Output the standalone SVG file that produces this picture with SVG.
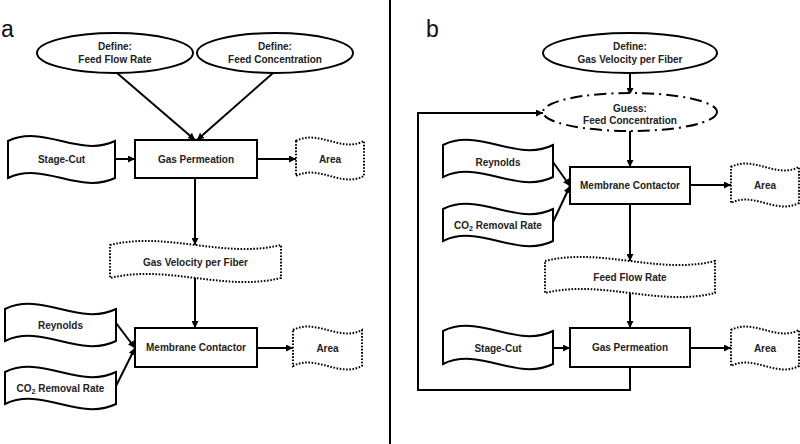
<svg xmlns="http://www.w3.org/2000/svg" width="800" height="444" viewBox="0 0 800 444">
<defs>
<marker id="ah" markerUnits="userSpaceOnUse" markerWidth="8" markerHeight="7" refX="7" refY="3.5" orient="auto">
<path d="M0,0 L7,3.5 L0,7 z" fill="#000"/>
</marker>
<style>
.s{fill:#fff;stroke:#000;stroke-width:2}
.d{fill:#fff;stroke:#000;stroke-width:2;stroke-dasharray:1.6 1.6}
.dd{fill:#fff;stroke:#000;stroke-width:2;stroke-dasharray:12 5 2 5}
.c{fill:none;stroke:#000;stroke-width:2;marker-end:url(#ah)}
.p{fill:none;stroke:#000;stroke-width:2}
text{font-family:"Liberation Sans",Arial,sans-serif;font-size:10px;font-weight:bold;text-anchor:middle;fill:#222}
.lab{font-size:23px;font-weight:normal;text-anchor:start;fill:#111}
</style>
</defs>
<rect width="800" height="444" fill="#fff"/>
<line x1="390" y1="0" x2="390" y2="444" stroke="#000" stroke-width="2"/>
<text class="lab" x="1" y="37">a</text>
<text class="lab" x="426" y="37">b</text>

<g id="connectors">
<path class="c" d="M117,73 L195,140"/>
<path class="c" d="M273,73 L197,140"/>
<path class="c" d="M115,159 L135,159"/>
<path class="c" d="M257,159 L296,159"/>
<path class="c" d="M195,178 L195,245"/>
<path class="c" d="M195,278 L195,328"/>
<path class="c" d="M116,323 L135,348"/>
<path class="c" d="M116,386 L135,348"/>
<path class="c" d="M257,348 L293,348"/>
<path class="c" d="M630,73 L630,95"/>
<path class="c" d="M630,131 L630,167"/>
<path class="c" d="M553,162 L570,186"/>
<path class="c" d="M553,222 L570,186"/>
<path class="c" d="M690,185 L731,185"/>
<path class="c" d="M630,204 L630,261"/>
<path class="c" d="M630,293 L630,328"/>
<path class="c" d="M553,348 L570,348"/>
<path class="c" d="M690,348 L731,348"/>
<path class="c" d="M630,367 L630,390 L418,390 L418,113 L543,113"/>
</g>

<g id="a-define-flow">
<ellipse class="s" cx="115" cy="53" rx="78" ry="20"/>
<text x="115" y="50">Define:</text>
<text x="115" y="63">Feed Flow Rate</text>
</g>
<g id="a-define-conc">
<ellipse class="s" cx="275" cy="53" rx="78" ry="20"/>
<text x="275" y="50">Define:</text>
<text x="275" y="63">Feed Concentration</text>
</g>
<g id="a-stagecut">
<path class="s" d="M8,141 C43.7,124 79.3,158 115,141 L115,178 C79.3,195 43.7,161 8,178 Z"/>
<text x="61.5" y="162.5">Stage-Cut</text>
</g>
<g id="a-gasperm">
<rect class="s" x="135" y="140" width="122" height="38"/>
<text x="196" y="162.5">Gas Permeation</text>
</g>
<g id="a-area1">
<path class="d" d="M296,141 C318.7,129 341.3,153 364,141 L364,176 C341.3,188 318.7,164 296,176 Z"/>
<text x="330" y="162.5">Area</text>
</g>
<g id="a-gasvel">
<path class="d" d="M110,245 C167,231 224,259 281,245 L281,278 C224,292 167,264 110,278 Z"/>
<text x="195.5" y="265.5">Gas Velocity per Fiber</text>
</g>
<g id="a-reynolds">
<path class="s" d="M5,309 C42,291 79,327 116,309 L116,341 C79,359 42,323 5,341 Z"/>
<text x="60.5" y="329">Reynolds</text>
</g>
<g id="a-co2">
<path class="s" d="M5,372 C42,354 79,390 116,372 L116,404 C79,422 42,386 5,404 Z"/>
<text x="60.5" y="392">CO<tspan font-size="7" dy="2">2</tspan><tspan dy="-2"> Removal Rate</tspan></text>
</g>
<g id="a-membrane">
<rect class="s" x="135" y="328" width="122" height="39"/>
<text x="196" y="351">Membrane Contactor</text>
</g>
<g id="a-area2">
<path class="d" d="M293,330 C316,318 339,342 362,330 L362,366 C339,378 316,354 293,366 Z"/>
<text x="327.5" y="351.5">Area</text>
</g>

<g id="b-define-vel">
<ellipse class="s" cx="630" cy="53" rx="87" ry="20"/>
<text x="630" y="50">Define:</text>
<text x="630" y="63">Gas Velocity per Fiber</text>
</g>
<g id="b-guess">
<ellipse class="dd" cx="630" cy="112" rx="87" ry="19"/>
<text x="630" y="112">Guess:</text>
<text x="630" y="124">Feed Concentration</text>
</g>
<g id="b-reynolds">
<path class="s" d="M443,145 C479.7,127 516.3,163 553,145 L553,177 C516.3,195 479.7,159 443,177 Z"/>
<text x="498" y="165.5">Reynolds</text>
</g>
<g id="b-co2">
<path class="s" d="M443,209 C479.7,191 516.3,227 553,209 L553,241 C516.3,259 479.7,223 443,241 Z"/>
<text x="498" y="228.5">CO<tspan font-size="7" dy="2">2</tspan><tspan dy="-2"> Removal Rate</tspan></text>
</g>
<g id="b-membrane">
<rect class="s" x="570" y="167" width="120" height="37"/>
<text x="630" y="189">Membrane Contactor</text>
</g>
<g id="b-area1">
<path class="d" d="M731,167 C753.7,155 776.3,179 799,167 L799,203 C776.3,215 753.7,191 731,203 Z"/>
<text x="765" y="188.5">Area</text>
</g>
<g id="b-feedflow">
<path class="d" d="M545,261 C601.7,247 658.3,275 715,261 L715,293 C658.3,307 601.7,279 545,293 Z"/>
<text x="630" y="280.5">Feed Flow Rate</text>
</g>
<g id="b-stagecut">
<path class="s" d="M443,331 C479.7,313 516.3,349 553,331 L553,364 C516.3,382 479.7,346 443,364 Z"/>
<text x="498" y="351.5">Stage-Cut</text>
</g>
<g id="b-gasperm">
<rect class="s" x="570" y="328" width="120" height="39"/>
<text x="630" y="351">Gas Permeation</text>
</g>
<g id="b-area2">
<path class="d" d="M731,330 C753.7,318 776.3,342 799,330 L799,366 C776.3,378 753.7,354 731,366 Z"/>
<text x="765" y="351.5">Area</text>
</g>
</svg>
